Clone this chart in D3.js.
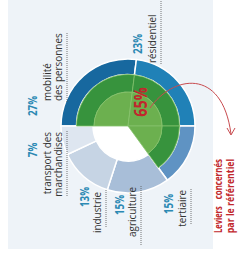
<!DOCTYPE html>
<html>
<head>
<meta charset="utf-8">
<script src="https://cdn.jsdelivr.net/npm/d3@7"></script>
<style>
  html, body { margin: 0; padding: 0; background: #ffffff; }
  svg { display: block; }
</style>
</head>
<body>
<svg id="chart"></svg>
<script>
// parts du total, dans l'ordre du cercle
var categories = ["mobilité des personnes", "résidentiel", "tertiaire", "agriculture", "industrie", "transport des marchandises"];
var shares = [27, 23, 15, 15, 13, 7];
var inReferential = [true, true, true, false, false, false];
var labelLines = [["mobilité", "des personnes"], ["résidentiel"], ["tertiaire"], ["agriculture"], ["industrie"], ["transport des", "marchandises"]];
var noteLines = ["Leviers", "concernés", "par le référentiel"];

var width = 247, height = 259;
var cx = 128, cy = 126;
var rOuter = 67, rRing = 51.5, rGreen = 34, rPale = 35;
var squeeze = 0.9; // police un peu plus étroite (type Calibri)

var colors = ["#17689f", "#2081b7", "#5f93c3", "#a8bed8", "#c6d4e4", "#dee6f0"];
var lightGreen = "#6cb04f", darkGreen = "#37933d";
var red = "#c1272d", teal = "#2b89b3", grey = "#333333";

// emplacement des étiquettes (texte tourné de -90°)
var labelPos = [
    { px: 37, py: 106, x: 51, y: 101, anchor: "start", dot: [102, 33] },
    { px: 142, py: 44, x: 156, y: 63, anchor: "start", dot: [64, 0] },
    { px: 173, py: 204, x: 186, y: 190, anchor: "end", dot: [189, 225] },
    { px: 124, py: 205, x: 136, y: 187, anchor: "end", dot: [186, 245] },
    { px: 89, py: 197, x: 101, y: 192, anchor: "end", dot: [190, 228] },
    { px: 37, py: 150, x: 51, y: 132, anchor: "end", dot: [131, 196] }
];

var svg = d3.select("#chart")
    .attr("width", width)
    .attr("height", height);

function narrow(sel, k) {
    sel.each(function() {
        var len = this.getComputedTextLength();
        d3.select(this)
            .attr("textLength", len * (k || squeeze))
            .attr("lengthAdjust", "spacingAndGlyphs");
    });
}

// fond
svg.append("rect")
    .attr("x", 8).attr("y", 0)
    .attr("width", 205).attr("height", 249)
    .attr("fill", "#eef3f8");

var pie = d3.pie()
    .value(function(d) { return d; })
    .startAngle(-Math.PI / 2)
    .endAngle(3 * Math.PI / 2)
    .sort(null);

var arcs = pie(shares);

var g = svg.append("g")
    .attr("transform", "translate(" + cx + "," + cy + ")");

// disque blanc au centre
g.append("circle").attr("r", rPale).attr("fill", "#ffffff");

// anneau extérieur
g.selectAll(".seg")
    .data(arcs)
    .enter().append("path")
    .attr("class", "seg")
    .attr("d", function(d, i) {
        var inner = inReferential[i] ? rRing : rPale;
        return d3.arc().innerRadius(inner).outerRadius(rOuter)(d);
    })
    .attr("fill", function(d, i) { return colors[i]; })
    .style("stroke", "#ffffff")
    .style("stroke-width", 1.5);

// partie verte (leviers du référentiel)
var greenArcs = arcs.filter(function(d, i) { return inReferential[i]; });

g.selectAll(".ring")
    .data(greenArcs)
    .enter().append("path")
    .attr("class", "ring")
    .attr("d", d3.arc().innerRadius(rGreen).outerRadius(rRing))
    .attr("fill", darkGreen)
    .style("stroke", "#7fbf6a")
    .style("stroke-width", 0.8);

g.selectAll(".core")
    .data(greenArcs)
    .enter().append("path")
    .attr("class", "core")
    .attr("d", d3.arc().innerRadius(0).outerRadius(rGreen))
    .attr("fill", lightGreen)
    .style("stroke", "#86c26c")
    .style("stroke-width", 0.8);

var total = d3.sum(shares.filter(function(d, i) { return inReferential[i]; }));

g.append("text")
    .attr("transform", "translate(13,-24) rotate(-90)")
    .attr("text-anchor", "middle")
    .attr("dy", "0.35em")
    .style("font-family", "'Open Sans', sans-serif")
    .style("font-weight", "bold")
    .style("font-size", "18px")
    .style("fill", red)
    .text(total + "%")
    .call(narrow, 0.8);

// étiquettes
categories.forEach(function(c, i) {
    var p = labelPos[i];
    var lab = svg.append("g");
    lab.append("text")
        .attr("transform", "translate(" + p.px + "," + p.py + ") rotate(-90)")
        .attr("text-anchor", "middle")
        .style("font-family", "'Open Sans', sans-serif")
        .style("font-weight", "bold")
        .style("font-size", "12px")
        .style("fill", teal)
        .text(shares[i] + "%")
        .call(narrow, 0.82);
    labelLines[i].forEach(function(line, j) {
        lab.append("text")
            .attr("transform", "translate(" + (p.x + j * 11) + "," + p.y + ") rotate(-90)")
            .attr("text-anchor", p.anchor)
            .style("font-family", "'Open Sans', sans-serif")
            .style("font-size", "11px")
            .style("fill", grey)
            .text(line)
            .call(narrow);
    });
    var dx = p.x + (labelLines[i].length - 1) * 11 + 5;
    lab.append("line")
        .attr("x1", dx).attr("x2", dx)
        .attr("y1", p.dot[0])
        .attr("y2", p.dot[1])
        .style("stroke", "#555")
        .style("stroke-width", 0.8)
        .style("stroke-dasharray", "1,1");
});

// flèche rouge
svg.append("path")
    .attr("d", "M150,108 C172,76 222,66 231,134")
    .attr("fill", "none")
    .style("stroke", "#c84b4f")
    .style("stroke-width", 1);
svg.append("path")
    .attr("d", "M227,128 L231,135 L235,128")
    .attr("fill", "none")
    .style("stroke", "#c84b4f")
    .style("stroke-width", 1);

// note en rouge
var noteStyle = function(t) {
    t.style("font-family", "'Open Sans', sans-serif")
     .style("font-weight", "bold")
     .style("font-size", "11px")
     .style("fill", red);
};
svg.append("text")
    .attr("transform", "translate(222,233) rotate(-90)")
    .attr("text-anchor", "start")
    .call(noteStyle)
    .text(noteLines[0])
    .call(narrow, 0.68);
svg.append("text")
    .attr("transform", "translate(222,159) rotate(-90)")
    .attr("text-anchor", "end")
    .call(noteStyle)
    .text(noteLines[1])
    .call(narrow, 0.72);
svg.append("text")
    .attr("transform", "translate(234,196) rotate(-90)")
    .attr("text-anchor", "middle")
    .call(noteStyle)
    .text(noteLines[2])
    .call(narrow, 0.8);
</script>
</body>
</html>
